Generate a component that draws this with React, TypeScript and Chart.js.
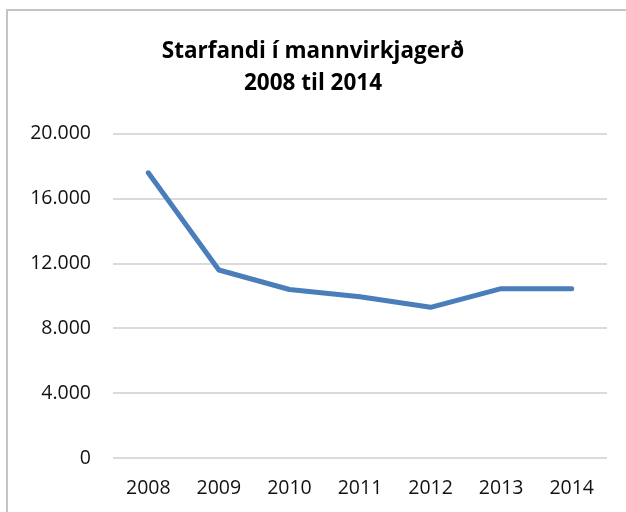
import React, { useEffect, useRef } from "react";
import { Chart, registerables } from "chart.js";

Chart.register(...registerables);

const titleLines = ["Starfandi í mannvirkjagerð", "2008 til 2014"];
const years = ["2008", "2009", "2010", "2011", "2012", "2013", "2014"];
const workers = [17600, 11600, 10400, 9950, 9300, 10450, 10450];
const yMin = 0;
const yMax = 20000;
const yStep = 4000;

const fmt = (v: number) => String(Math.round(v)).replace(/\B(?=(\d{3})+(?!\d))/g, ".");

export default function App() {
  const ref = useRef<HTMLCanvasElement | null>(null);
  useEffect(() => {
    if (!ref.current) return;
    const chart = new Chart(ref.current, {
      type: "line",
      data: {
        labels: years,
        datasets: [
          {
            data: workers,
            borderColor: "#4a7ebb",
            backgroundColor: "#4a7ebb",
            borderWidth: 5,
            pointRadius: 0,
            tension: 0,
            borderCapStyle: "round",
            borderJoinStyle: "round",
            yAxisID: "y",
          },
        ],
      },
      options: {
        responsive: false,
        animation: false,
        layout: { padding: 0 },
        plugins: {
          legend: { display: false },
          tooltip: { enabled: false },
          title: {
            display: true,
            text: titleLines,
            color: "#000",
            font: { family: "Open Sans", size: 22.5, weight: "bold", lineHeight: 1.42 },
            padding: { top: 36, bottom: 34 },
          },
        },
        scales: {
          x: {
            offset: true,
            grid: { display: false, drawTicks: false },
            border: { display: false },
            ticks: {
              color: "#111",
              font: { family: "Open Sans", size: 19.5 },
              padding: 19,
              maxRotation: 0,
            },
            afterFit: (s: any) => {
              s.height = 54;
            },
          },
          y: {
            min: yMin,
            max: yMax,
            grid: { color: "#dadada", lineWidth: 2, drawTicks: false },
            border: { display: false },
            ticks: {
              stepSize: yStep,
              color: "#111",
              font: { family: "Open Sans", size: 19.5 },
              padding: 22,
              callback: (v: any) => fmt(Number(v)),
            },
            afterFit: (s: any) => {
              s.width = 113;
            },
          },
          yr: {
            position: "right",
            min: yMin,
            max: yMax,
            grid: { display: false, drawTicks: false },
            border: { display: false },
            ticks: { display: false },
            afterFit: (s: any) => {
              s.width = 19;
            },
          },
        },
      },
    });
    return () => chart.destroy();
  }, []);
  return (
    <div style={{ position: "fixed", left: 0, top: 0, width: 626, height: 512, background: "#fff", overflow: "hidden" }}>
      <div
        style={{
          position: "absolute",
          left: 6,
          top: 9,
          width: 700,
          height: 600,
          borderTop: "2px solid #c4c4c4",
          borderLeft: "2px solid #c4c4c4",
        }}
      />
      <canvas ref={ref} width={626} height={512} style={{ position: "absolute", left: 0, top: 0, width: 626, height: 512 }} />
    </div>
  );
}
